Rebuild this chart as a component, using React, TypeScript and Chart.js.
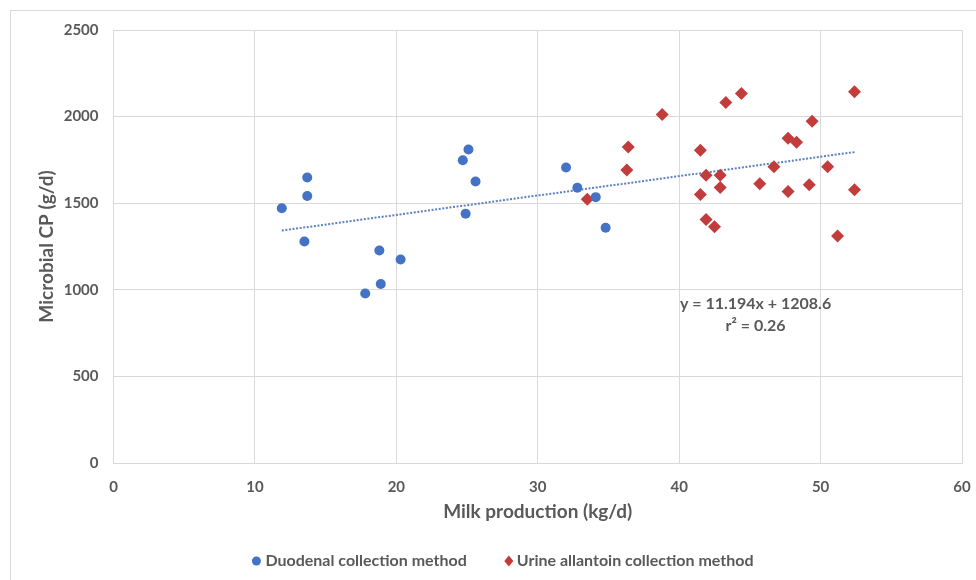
import React, { useEffect, useRef } from "react";
import { Chart, registerables } from "chart.js";

Chart.register(...registerables);

// ---- data ----
const duodenalX = [11.9, 13.7, 13.7, 13.5, 17.8, 18.8, 18.9, 20.3, 24.7, 25.1, 25.6, 24.9, 32.0, 32.8, 34.1, 34.8];
const duodenalY = [1471, 1648, 1542, 1279, 979, 1227, 1033, 1175, 1748, 1810, 1625, 1439, 1706, 1589, 1535, 1358];

const urineX = [33.5, 36.4, 36.3, 38.8, 41.5, 41.9, 41.5, 41.9, 42.5, 42.9, 42.9, 43.3, 44.4, 45.7, 46.7, 47.7, 48.3, 47.7, 49.4, 49.2, 50.5, 51.2, 52.4, 52.4];
const urineY = [1523, 1825, 1692, 2012, 1806, 1662, 1550, 1406, 1364, 1662, 1590, 2081, 2133, 1612, 1710, 1875, 1852, 1567, 1973, 1606, 1711, 1310, 2144, 1577];

const trendX = [11.9, 52.4];
const trendY = [1342, 1795];

const xTicks = [0, 10, 20, 30, 40, 50, 60];
const yTicks = [0, 500, 1000, 1500, 2000, 2500];

const seriesLabels = ["Duodenal collection method", "Urine allantoin collection method"];
const equationLines = ["y = 11.194x + 1208.6", "r\u00B2 = 0.26"];
const equationAnchor = [45.4, 919, 791]; // x, y of line 1, y of line 2 (data units)
const xTitle = "Milk production (kg/d)";
const yTitle = "Microbial CP (g/d)";

// ---- styles ----
const FONT = "Lato, 'Open Sans', sans-serif";
const TEXT = "#595959";
const GRID = "#d9d9d9";
const BLUE = "#4472C4";
const RED = "#C33C3C";
const TREND = "#5B80C0";

export default function App() {
  const ref = useRef<HTMLCanvasElement>(null);

  useEffect(() => {
    const canvas = ref.current!;

    const framePlugin = {
      id: "frame",
      beforeDraw(chart: any) {
        const ctx = chart.ctx;
        ctx.save();
        ctx.fillStyle = "#ffffff";
        ctx.fillRect(0, 0, chart.width, chart.height);
        ctx.strokeStyle = "#d9d9d9";
        ctx.lineWidth = 1;
        ctx.strokeRect(10.5, 10.5, chart.width + 20, chart.height + 20);
        ctx.restore();
      },
    };

    const annotationPlugin = {
      id: "annot",
      afterDraw(chart: any) {
        const ctx = chart.ctx;
        const xs = chart.scales.x;
        const ys = chart.scales.y;
        ctx.save();
        // regression equation
        ctx.font = `bold 16px ${FONT}`;
        ctx.fillStyle = TEXT;
        ctx.textAlign = "center";
        ctx.textBaseline = "middle";
        const ex = xs.getPixelForValue(equationAnchor[0]);
        ctx.fillText(equationLines[0], ex, ys.getPixelForValue(equationAnchor[1]));
        ctx.fillText(equationLines[1], ex, ys.getPixelForValue(equationAnchor[2]));

        // legend
        ctx.font = `bold 16px ${FONT}`;
        ctx.textAlign = "left";
        const w1 = ctx.measureText(seriesLabels[0]).width;
        const w2 = ctx.measureText(seriesLabels[1]).width;
        const gap = 42;
        const total = 9 + w1 + gap + 8 + w2;
        const cx = 505;
        const ly = 561;
        let x = cx - total / 2;
        ctx.fillStyle = BLUE;
        ctx.beginPath();
        ctx.arc(x, ly, 4.5, 0, Math.PI * 2);
        ctx.fill();
        ctx.fillStyle = TEXT;
        ctx.fillText(seriesLabels[0], x + 9, ly);
        x = x + 9 + w1 + gap;
        ctx.fillStyle = RED;
        ctx.beginPath();
        ctx.moveTo(x, ly - 5.5);
        ctx.lineTo(x + 4.5, ly);
        ctx.lineTo(x, ly + 5.5);
        ctx.lineTo(x - 4.5, ly);
        ctx.closePath();
        ctx.fill();
        ctx.fillStyle = TEXT;
        ctx.fillText(seriesLabels[1], x + 8, ly);
        ctx.restore();
      },
    };

    const tickFont = { family: FONT, size: 15, weight: "bold" as const };
    const titleFont = { family: FONT, size: 19, weight: "bold" as const };

    const chart = new Chart(canvas, {
      type: "scatter",
      data: {
        datasets: [
          {
            label: seriesLabels[0],
            data: duodenalX.map((x, i) => ({ x, y: duodenalY[i] })),
            pointStyle: "circle",
            pointRadius: 5,
            pointHoverRadius: 5,
            backgroundColor: BLUE,
            borderColor: BLUE,
            borderWidth: 0,
          },
          {
            label: seriesLabels[1],
            data: urineX.map((x, i) => ({ x, y: urineY[i] })),
            pointStyle: "rectRot",
            pointRadius: 6.5,
            pointHoverRadius: 6.5,
            backgroundColor: RED,
            borderColor: RED,
            borderWidth: 0,
          },
          {
            label: "Trend",
            type: "line",
            data: trendX.map((x, i) => ({ x, y: trendY[i] })),
            showLine: true,
            borderColor: TREND,
            borderWidth: 2,
            borderDash: [2, 1.6],
            pointRadius: 0,
            fill: false,
          } as any,
        ],
      },
      options: {
        responsive: false,
        animation: false,
        devicePixelRatio: 1,
        layout: { padding: { left: 10, right: 14, top: 30, bottom: 47 } },
        plugins: {
          legend: { display: false },
          tooltip: { enabled: false },
        },
        scales: {
          x: {
            type: "linear",
            min: xTicks[0],
            max: xTicks[xTicks.length - 1],
            afterBuildTicks: (axis: any) => {
              axis.ticks = xTicks.map((v) => ({ value: v }));
            },
            afterFit: (axis: any) => {
              axis.height = 70;
              axis.paddingLeft = 0;
              axis.paddingRight = 0;
            },
            ticks: {
              font: tickFont,
              color: TEXT,
              padding: 15,
              callback: (v: any) => String(v),
            },
            grid: { color: GRID, drawTicks: false, lineWidth: 1 },
            border: { color: GRID },
            title: {
              display: true,
              text: xTitle,
              font: titleFont,
              color: TEXT,
              padding: { top: 0, bottom: 9.6 },
            },
          },
          y: {
            type: "linear",
            min: yTicks[0],
            max: yTicks[yTicks.length - 1],
            afterBuildTicks: (axis: any) => {
              axis.ticks = yTicks.map((v) => ({ value: v }));
            },
            afterFit: (axis: any) => {
              axis.width = 103.5;
              axis.paddingTop = 0;
              axis.paddingBottom = 0;
            },
            ticks: {
              font: tickFont,
              color: TEXT,
              padding: 15,
              callback: (v: any) => String(v),
            },
            grid: { color: GRID, drawTicks: false, lineWidth: 1 },
            border: { color: GRID },
            title: {
              display: true,
              text: yTitle,
              font: titleFont,
              color: TEXT,
              padding: { top: 25.5, bottom: 0 },
            },
          },
        },
      },
      plugins: [framePlugin, annotationPlugin],
    });

    return () => chart.destroy();
  }, []);

  return (
    <div style={{ position: "fixed", left: 0, top: 0, width: 976, height: 580, overflow: "hidden", background: "#fff" }}>
      <canvas ref={ref} width={976} height={580} style={{ display: "block", width: 976, height: 580 }} />
    </div>
  );
}
